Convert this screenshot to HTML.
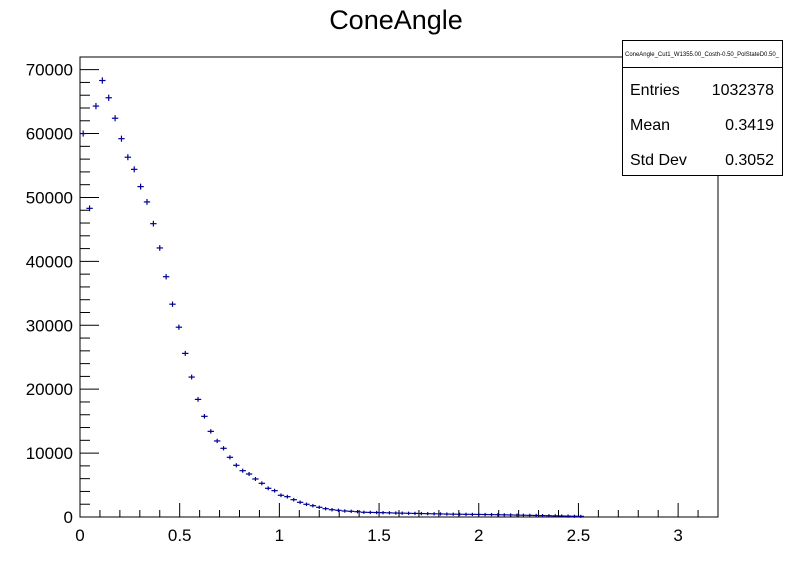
<!DOCTYPE html>
<html><head><meta charset="utf-8"><style>
html,body{margin:0;padding:0;background:#fff;}
svg{display:block;font-family:"Liberation Sans",sans-serif;}
</style></head><body>
<svg id="chart" width="798" height="574" viewBox="0 0 798 574">
<rect x="0" y="0" width="798" height="574" fill="#fff"/>
<text x="396" y="29" font-size="27" text-anchor="middle">ConeAngle</text>
<rect x="80" y="57" width="638" height="460" fill="none" stroke="#000" stroke-width="1"/>
<g id="xaxis"></g>
<g id="yaxis"></g>
<g id="marks"></g>
<g>
<rect x="622.5" y="40.5" width="160" height="135" fill="#fff" stroke="#000" stroke-width="1"/>
<line x1="622" y1="67.5" x2="782" y2="67.5" stroke="#000"/>
<text x="702" y="56" font-size="6" text-anchor="middle" textLength="154" lengthAdjust="spacingAndGlyphs">ConeAngle_Cut1_W1355.00_Costh-0.50_PolStateD0.50_</text>
<text x="630" y="95" font-size="16">Entries</text>
<text x="774" y="95" font-size="16" text-anchor="end">1032378</text>
<text x="630" y="130" font-size="16">Mean</text>
<text x="774" y="130" font-size="16" text-anchor="end">0.3419</text>
<text x="630" y="165" font-size="16">Std Dev</text>
<text x="774" y="165" font-size="16" text-anchor="end">0.3052</text>
</g>
</svg>
<script>
const binEdgesLow = 0, binWidth = 0.032;
const counts = [60000,48300,64300,68300,65600,62400,59200,56300,54400,51700,49300,45900,42100,37600,33300,29700,25600,21900,18400,15750,13400,11900,10750,9340,8090,7250,6730,5950,5270,4490,4120,3400,3180,2710,2300,1990,1770,1520,1300,1140,1050,940,890,830,740,
720,700,680,650,620,600,580,560,540,520,500,480,460,440,430,420,410,400,390,380,360,340,320,300,280,260,240,220,200,180,160,140,120,100,
0,0,0,0,0,0,0,0,0,0,0,0,0,0,0,0,0,0,0,0,0,0];
const xTickLabels = ["0","0.5","1","1.5","2","2.5","3"];
const yTickLabels = ["0","10000","20000","30000","40000","50000","60000","70000"];
const NS="http://www.w3.org/2000/svg";
const X0=80,X1=718,Y0=517,Y1=57, XMAX=3.2, YMAX=71980;
function sx(v){return X0+v/XMAX*(X1-X0);}
function sy(v){return Y0-v/YMAX*(Y0-Y1);}
function mk(tag,attrs,parent){const e=document.createElementNS(NS,tag);for(const k in attrs)e.setAttribute(k,attrs[k]);parent.appendChild(e);return e;}
const xa=document.getElementById('xaxis'), ya=document.getElementById('yaxis'), mg=document.getElementById('marks');
for(let i=0;i<=32;i++){
  const v=i*0.1, x=sx(v), major=i%5===0;
  const t=mk('line',{x1:x,y1:Y0,x2:x,y2:Y0-(major?14:7),stroke:'#000'},xa);
  
  
}
xTickLabels.forEach((s)=>{
  const t=mk('text',{x:sx(parseFloat(s)),y:541,'font-size':17,'text-anchor':'middle'},xa);
  t.textContent=s;
  
  
});
for(let i=0;i<=35;i++){
  const v=i*2000, y=sy(v), major=i%5===0;
  const t=mk('line',{x1:X0,y1:y,x2:X0+(major?19:10),y2:y,stroke:'#000'},ya);
  
  
}
yTickLabels.forEach((s)=>{
  const t=mk('text',{x:73,y:sy(parseFloat(s))+6,'font-size':17,'text-anchor':'end'},ya);
  t.textContent=s;
  
  
});
counts.forEach((c,i)=>{
  if(c<=0)return;
  const lo=binEdgesLow+i*binWidth, hi=lo+binWidth, mid=lo+binWidth/2;
  const g=mk('g',{},mg);
  
  
  mk('line',{x1:sx(lo),y1:sy(c),x2:sx(hi),y2:sy(c),stroke:'#000099','stroke-width':1.2},g);
  const e=Math.sqrt(c);
  mk('line',{x1:sx(mid),y1:sy(c+e)-1.5,x2:sx(mid),y2:sy(c-e)+1.5,stroke:'#000099','stroke-width':1.2},g);
});
</script>
</body></html>
